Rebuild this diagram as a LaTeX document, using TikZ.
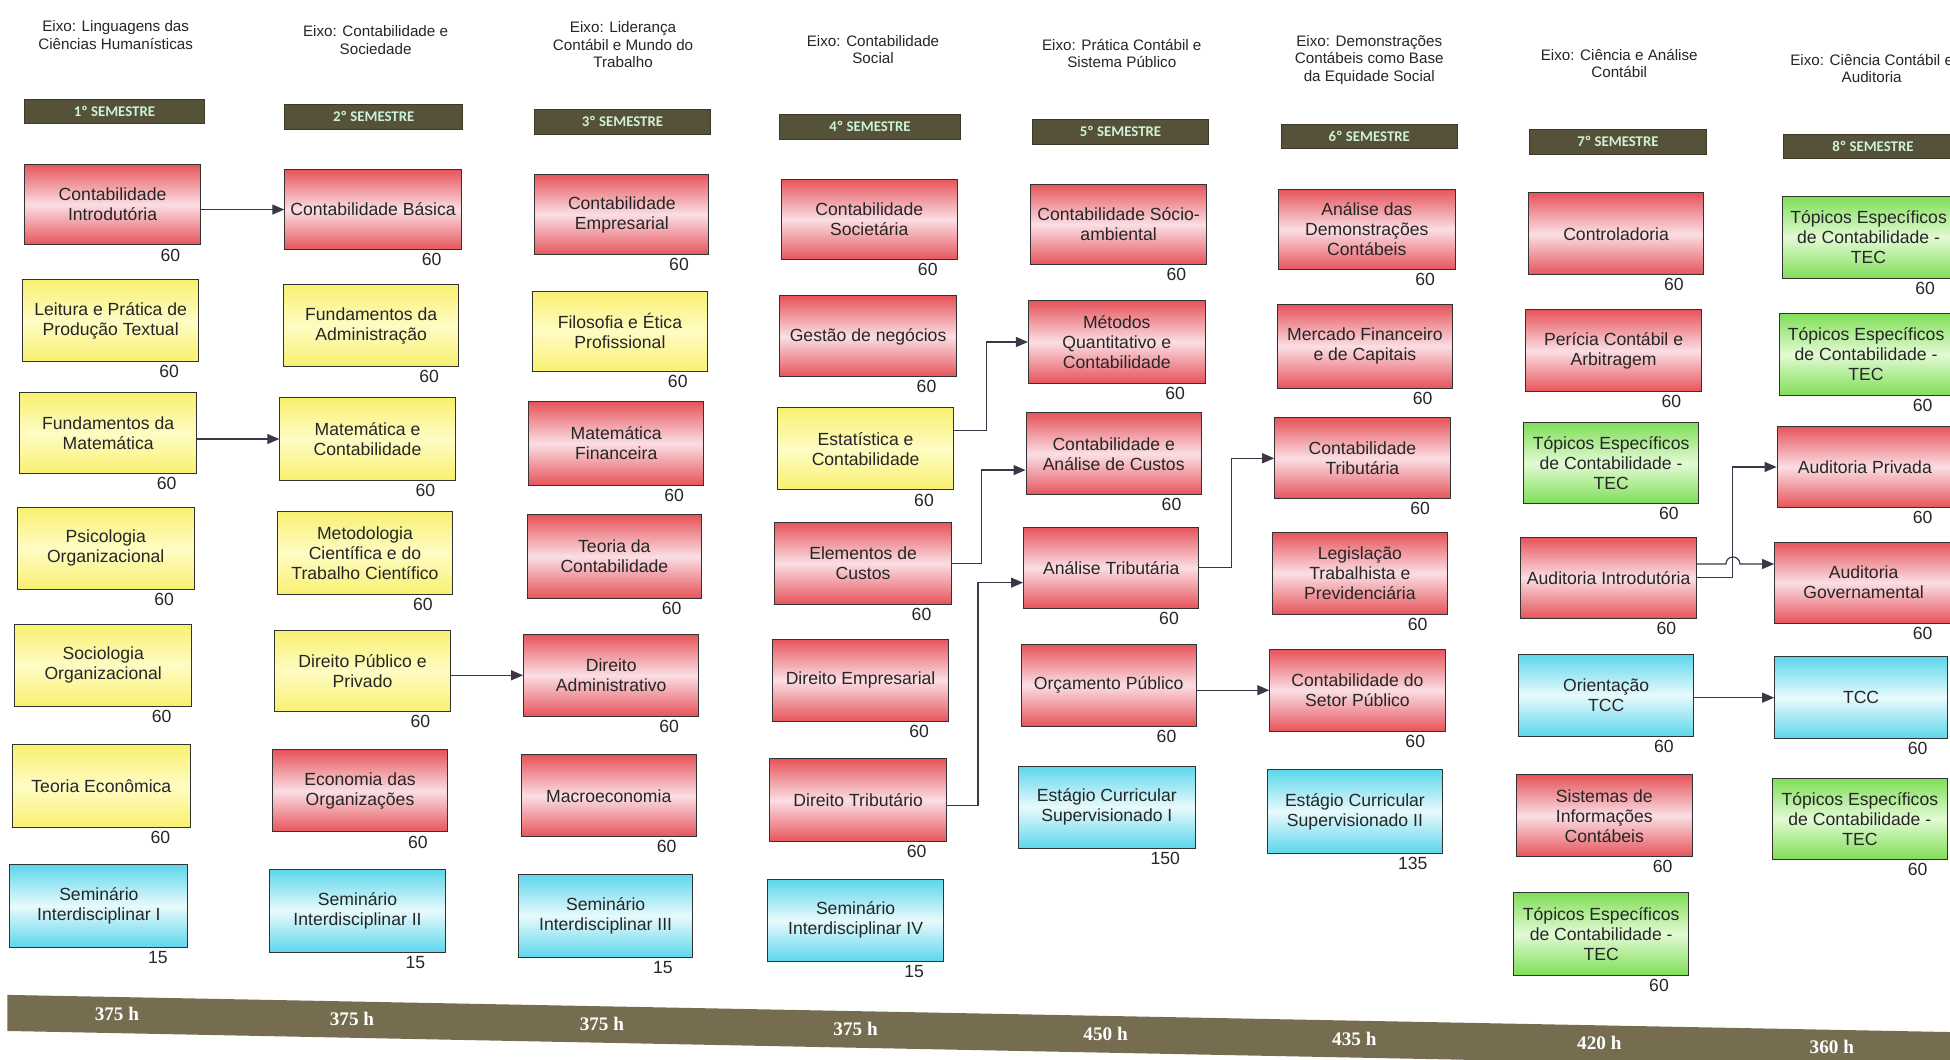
\documentclass[tikz,border=0pt]{standalone}
\usepackage{fontspec}
\setmainfont{Liberation Sans}
\newfontfamily\semfont{Carlito}
\newfontfamily\totfont{Liberation Serif}
\usetikzlibrary{arrows.meta,calc}
\definecolor{rEdge}{RGB}{230,84,90}
\definecolor{rMid}{RGB}{250,222,228}
\definecolor{yEdge}{RGB}{248,240,112}
\definecolor{yMid}{RGB}{255,252,196}
\definecolor{gEdge}{RGB}{128,222,88}
\definecolor{gMid}{RGB}{226,250,212}
\definecolor{cEdge}{RGB}{92,214,236}
\definecolor{cMid}{RGB}{232,250,252}
\definecolor{semBar}{RGB}{86,82,58}
\definecolor{semTxt}{RGB}{205,242,215}
\definecolor{totBar}{RGB}{118,108,80}
\definecolor{lineCol}{RGB}{60,55,70}
\tikzset{
  box/.style={draw=black!80, line width=0.5pt, align=center, inner sep=1pt,
    font=\fontsize{8.8}{10}\selectfont, text=black!85},
  redbox/.style={top color=rEdge, bottom color=rEdge, middle color=rMid},
  yelbox/.style={top color=yEdge, bottom color=yEdge, middle color=yMid},
  grnbox/.style={top color=gEdge, bottom color=gEdge, middle color=gMid},
  cybox/.style={top color=cEdge, bottom color=cEdge, middle color=cMid},
  hrs/.style={inner sep=0pt, font=\fontsize{8.8}{10}\selectfont, text=black!85},
  hdr/.style={align=center, inner sep=0pt, font=\fontsize{7.6}{8.8}\selectfont, text=black!85},
  sem/.style={fill=semBar, draw=semBar!70!black, line width=0.4pt, inner sep=0pt,
    font=\semfont\bfseries\fontsize{7.4}{8}\selectfont, text=semTxt},
  tot/.style={inner sep=0pt, font=\totfont\bfseries\fontsize{9.6}{10}\selectfont, text=white},
  conn/.style={draw=lineCol, line width=0.6pt, -{Triangle[length=6pt,width=5pt]}}
}
\newcommand\cbox[8]{%
  \node[box,#2,minimum width={(#5-#3)*0.6218pt},minimum height={(#6-#4)*0.6218pt}]
    (#1) at ({(#3+#5)/2},{(#4+#6)/2}) {#7};
  \node[hrs] (#1h) at ({#5-24},{#6+8}) {#8};
}
\newcommand\sbar[6]{%
  \node[sem,minimum width={(#4-#2)*0.6218pt},minimum height={(#5-#3)*0.6218pt}]
    (#1) at ({(#2+#4)/2},{(#3+#5)/2}) {#6};
}
\begin{document}
\begin{tikzpicture}[x=0.6218pt,y=-0.6218pt]
\useasboundingbox (0,0) rectangle (1568,852);
\fill[white] (0,0) rectangle (1568,852);
\clip (0,0) rectangle (1568,852);

% headers
\node[hdr] (h1) at (93,28) {Eixo: Linguagens das\\Ciências Humanísticas};
\node[hdr] (h2) at (302,32) {Eixo: Contabilidade e\\Sociedade};
\node[hdr] (h3) at (501,36) {Eixo: Liderança\\Contábil e Mundo do\\Trabalho};
\node[hdr] (h4) at (702,40) {Eixo: Contabilidade\\Social};
\node[hdr] (h5) at (902,43) {Eixo: Prática Contábil e\\Sistema Público};
\node[hdr] (h6) at (1101,48) {Eixo: Demonstrações\\Contábeis como Base\\da Equidade Social};
\node[hdr] (h7) at (1302,51) {Eixo: Ciência e Análise\\Contábil};
\node[hdr] (h8) at (1505,55) {Eixo: Ciência Contábil e\\Auditoria};

% semester bars
\sbar{s1}{20}{80}{164}{99}{1º SEMESTRE}
\sbar{s2}{229}{84}{372}{104}{2º SEMESTRE}
\sbar{s3}{430}{88}{571}{108}{3º SEMESTRE}
\sbar{s4}{627}{92}{772}{112}{4º SEMESTRE}
\sbar{s5}{830}{96}{972}{116}{5º SEMESTRE}
\sbar{s6}{1030}{100}{1172}{119}{6º SEMESTRE}
\sbar{s7}{1230}{104}{1372}{124}{7º SEMESTRE}
\sbar{s8}{1434}{108}{1578}{127}{8º SEMESTRE}

% column 1
\cbox{c1r1}{redbox}{20}{132}{161}{197}{Contabilidade\\Introdutória}{60}
\cbox{c1r2}{yelbox}{18}{225}{160}{291}{Leitura e Prática de\\Produção Textual}{60}
\cbox{c1r3}{yelbox}{16}{316}{158}{381}{Fundamentos da\\Matemática}{60}
\cbox{c1r4}{yelbox}{14}{408}{156}{474}{Psicologia\\Organizacional}{60}
\cbox{c1r5}{yelbox}{12}{502}{154}{568}{Sociologia\\Organizacional}{60}
\cbox{c1r6}{yelbox}{10}{599}{153}{665}{Teoria Econômica}{60}
\cbox{c1r7}{cybox}{8}{695}{151}{762}{Seminário\\Interdisciplinar I}{15}

% column 2
\cbox{c2r1}{redbox}{229}{136}{371}{201}{Contabilidade Básica}{60}
\cbox{c2r2}{yelbox}{228}{229}{369}{295}{Fundamentos da\\Administração}{60}
\cbox{c2r3}{yelbox}{225}{320}{366}{386}{Matemática e\\Contabilidade}{60}
\cbox{c2r4}{yelbox}{223}{411}{364}{478}{Metodologia\\Científica e do\\Trabalho Científico}{60}
\cbox{c2r5}{yelbox}{221}{507}{362}{572}{Direito Público e\\Privado}{60}
\cbox{c2r6}{redbox}{219}{603}{360}{669}{Economia das\\Organizações}{60}
\cbox{c2r7}{cybox}{217}{699}{358}{766}{Seminário\\Interdisciplinar II}{15}

% column 3
\cbox{c3r1}{redbox}{430}{140}{570}{205}{Contabilidade\\Empresarial}{60}
\cbox{c3r2}{yelbox}{428}{234}{569}{299}{Filosofia e Ética\\Profissional}{60}
\cbox{c3r3}{redbox}{425}{323}{566}{390}{Matemática\\Financeira}{60}
\cbox{c3r4}{redbox}{424}{414}{564}{481}{Teoria da\\Contabilidade}{60}
\cbox{c3r5}{redbox}{421}{510}{562}{576}{Direito\\Administrativo}{60}
\cbox{c3r6}{redbox}{419}{607}{560}{673}{Macroeconomia}{60}
\cbox{c3r7}{cybox}{417}{703}{557}{770}{Seminário\\Interdisciplinar III}{15}

% column 4
\cbox{c4r1}{redbox}{628}{144}{770}{209}{Contabilidade\\Societária}{60}
\cbox{c4r2}{redbox}{627}{238}{769}{303}{Gestão de negócios}{60}
\cbox{c4r3}{yelbox}{625}{328}{767}{394}{Estatística e\\Contabilidade}{60}
\cbox{c4r4}{redbox}{623}{420}{765}{486}{Elementos de\\Custos}{60}
\cbox{c4r5}{redbox}{621}{514}{763}{580}{Direito Empresarial}{60}
\cbox{c4r6}{redbox}{619}{610}{761}{677}{Direito Tributário}{60}
\cbox{c4r7}{cybox}{617}{707}{759}{773}{Seminário\\Interdisciplinar IV}{15}

% column 5
\cbox{c5r1}{redbox}{829}{148}{970}{213}{Contabilidade Sócio-\\ambiental}{60}
\cbox{c5r2}{redbox}{827}{242}{969}{308}{Métodos\\Quantitativo e\\Contabilidade}{60}
\cbox{c5r3}{redbox}{825}{332}{966}{398}{Contabilidade e\\Análise de Custos}{60}
\cbox{c5r4}{redbox}{823}{424}{964}{489}{Análise Tributária}{60}
\cbox{c5r5}{redbox}{821}{518}{962}{584}{Orçamento Público}{60}
\cbox{c5r6}{cybox}{819}{616}{961}{682}{Estágio Curricular\\Supervisionado I}{150}

% column 6
\cbox{c6r1}{redbox}{1028}{152}{1170}{217}{Análise das\\Demonstrações\\Contábeis}{60}
\cbox{c6r2}{redbox}{1027}{245}{1168}{312}{Mercado Financeiro\\e de Capitais}{60}
\cbox{c6r3}{redbox}{1025}{336}{1166}{401}{Contabilidade\\Tributária}{60}
\cbox{c6r4}{redbox}{1023}{428}{1164}{494}{Legislação\\Trabalhista e\\Previdenciária}{60}
\cbox{c6r5}{redbox}{1021}{522}{1162}{588}{Contabilidade do\\Setor Público}{60}
\cbox{c6r6}{cybox}{1019}{619}{1160}{686}{Estágio Curricular\\Supervisionado II}{135}

% column 7
\cbox{c7r1}{redbox}{1229}{155}{1370}{221}{Controladoria}{60}
\cbox{c7r2}{redbox}{1227}{249}{1368}{315}{Perícia Contábil e\\Arbitragem}{60}
\cbox{c7r3}{grnbox}{1225}{340}{1366}{405}{Tópicos Específicos\\de Contabilidade -\\TEC}{60}
\cbox{c7r4}{redbox}{1223}{432}{1364}{497}{Auditoria Introdutória}{60}
\cbox{c7r5}{cybox}{1221}{526}{1362}{592}{Orientação\\TCC}{60}
\cbox{c7r6}{redbox}{1219}{623}{1361}{689}{Sistemas de\\Informações\\Contábeis}{60}
\cbox{c7r7}{grnbox}{1217}{718}{1358}{784}{Tópicos Específicos\\de Contabilidade -\\TEC}{60}

% column 8
\cbox{c8r1}{grnbox}{1433}{158}{1572}{224}{Tópicos Específicos\\de Contabilidade -\\TEC}{60}
\cbox{c8r2}{grnbox}{1431}{252}{1570}{318}{Tópicos Específicos\\de Contabilidade -\\TEC}{60}
\cbox{c8r3}{redbox}{1429}{343}{1570}{408}{Auditoria Privada}{60}
\cbox{c8r4}{redbox}{1427}{436}{1570}{501}{Auditoria\\Governamental}{60}
\cbox{c8r5}{cybox}{1427}{528}{1566}{594}{TCC}{60}
\cbox{c8r6}{grnbox}{1425}{626}{1566}{691}{Tópicos Específicos\\de Contabilidade -\\TEC}{60}

% connectors
\draw[conn] (c2r1.west -| c1r1.east) -- (c2r1.west);
\draw[conn] (c2r3.west -| c1r3.east) -- (c2r3.west);
\draw[conn] (c3r5.west -| c2r5.east) -- (c3r5.west);
\draw[conn] ($(c4r3.east)+(0,-15)$) -- ++(26,0) |- (c5r2.west);
\draw[conn] (c4r4.east) -- ++(24,0) |- ($(c5r3.west)+(0,13)$);
\draw[conn] ($(c4r6.east)+(0,4)$) -- ++(25,0) |- ($(c5r4.west)+(0,12)$);
\draw[conn] (c5r4.east) -- ++(26,0) |- (c6r3.west);
\draw[conn] (c6r5.west -| c5r5.east) -- (c6r5.west);
\draw[conn] (c7r4.east) -- ++(29,0) |- (c8r3.west);
\coordinate (a1) at ($(c7r4.east)+(0,-11)$);
\draw[conn] (a1) -- ++(23.4,0) arc[start angle=180,end angle=0,radius=3.5pt] -- (a1 -| c8r4.west);
\draw[conn] (c8r5.west -| c7r5.east) -- (c8r5.west);

% bottom totals bar
\fill[totBar] (6,800) -- (1575,830) -- (1575,860) -- (6,829) -- cycle;
\node[tot] (b1) at (94,815) {375 h};
\node[tot] (b2) at (283,819) {375 h};
\node[tot] (b3) at (484,823) {375 h};
\node[tot] (b4) at (688,827) {375 h};
\node[tot] (b5) at (889,831) {450 h};
\node[tot] (b6) at (1089,835) {435 h};
\node[tot] (b7) at (1286,839) {420 h};
\node[tot] (b8) at (1473,842) {360 h};
\end{tikzpicture}
\end{document}
